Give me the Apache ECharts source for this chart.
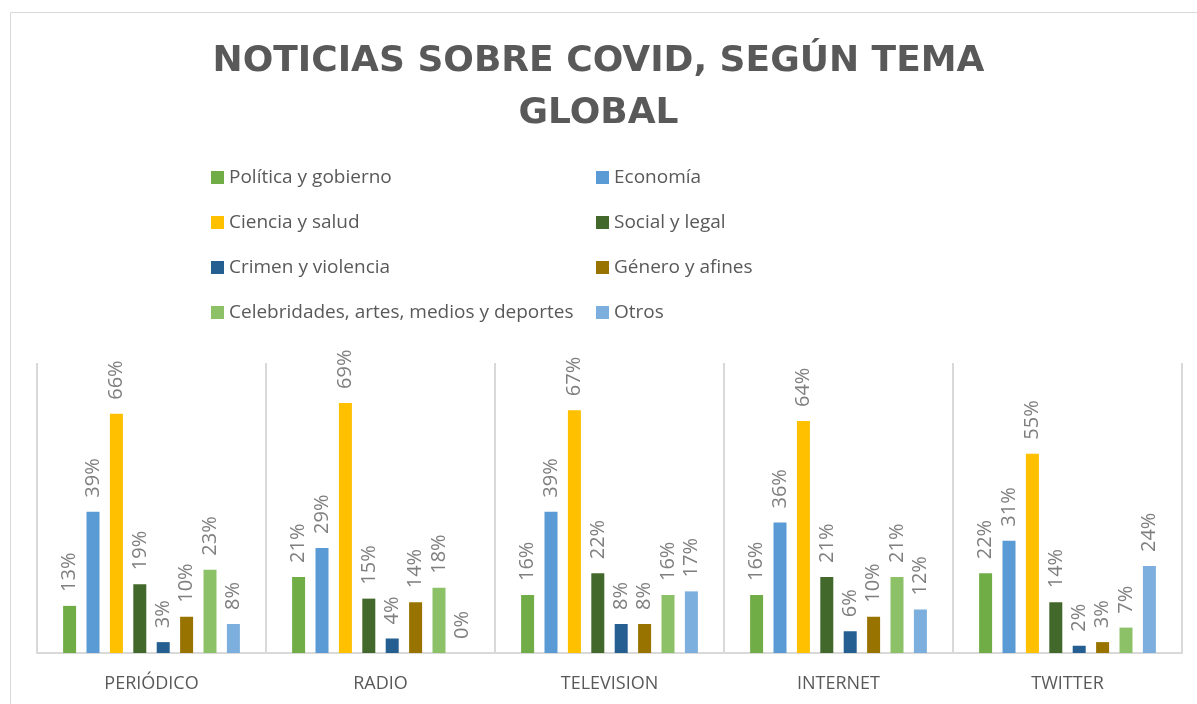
<!DOCTYPE html>
<html>
<head>
<meta charset="utf-8">
<script src="https://cdn.jsdelivr.net/npm/echarts@6/dist/echarts.min.js"></script>
<style>
  html, body { margin: 0; padding: 0; background: #fff; }
  #chart { width: 1197px; height: 704px; }
</style>
</head>
<body>
<div id="chart"></div>
<script>
// categorias (medios)
var medios = ['PERIÓDICO', 'RADIO', 'TELEVISION', 'INTERNET', 'TWITTER']

// porcentajes por tema
var politica = [13, 21, 16, 16, 22]
var economia = [39, 29, 39, 36, 31]
var ciencia = [66, 69, 67, 64, 55]
var social = [19, 15, 22, 21, 14]
var crimen = [3, 4, 8, 6, 2]
var genero = [10, 14, 8, 10, 3]
var celebridades = [23, 18, 16, 21, 7]
var otros = [8, 0, 17, 12, 24]

var temas = [
  { name: 'Política y gobierno', data: politica, color: '#70ad47' },
  { name: 'Economía', data: economia, color: '#5b9bd5' },
  { name: 'Ciencia y salud', data: ciencia, color: '#ffc000' },
  { name: 'Social y legal', data: social, color: '#43682b' },
  { name: 'Crimen y violencia', data: crimen, color: '#255e91' },
  { name: 'Género y afines', data: genero, color: '#997300' },
  { name: 'Celebridades, artes, medios y deportes', data: celebridades, color: '#8cc168' },
  { name: 'Otros', data: otros, color: '#7cafdd' }
]

var chart = echarts.init(document.getElementById('chart'))

var legendText = { fontFamily: 'Open Sans', fontSize: 19, color: '#595959' }

chart.setOption({
  animation: false,
  title: {
    text: 'NOTICIAS SOBRE COVID, SEGÚN TEMA\nGLOBAL',
    left: 'center',
    top: 31,
    textStyle: {
      fontFamily: 'DejaVu Sans',
      fontWeight: 'bold',
      fontSize: 36,
      lineHeight: 52,
      color: '#595959'
    }
  },
  graphic: [{
    type: 'rect',
    shape: { x: 10.5, y: 12.5, width: 1200, height: 720 },
    style: { fill: 'none', stroke: '#d9d9d9', lineWidth: 1 },
    silent: true
  }],
  legend: [
    {
      orient: 'vertical',
      left: 206,
      top: 163,
      itemWidth: 13,
      itemHeight: 13,
      itemGap: 26,
      icon: 'rect',
      textStyle: legendText,
      data: [temas[0].name, temas[2].name, temas[4].name, temas[6].name]
    },
    {
      orient: 'vertical',
      left: 591,
      top: 163,
      itemWidth: 13,
      itemHeight: 13,
      itemGap: 26,
      icon: 'rect',
      textStyle: legendText,
      data: [temas[1].name, temas[3].name, temas[5].name, temas[7].name]
    }
  ],
  grid: {
    left: 37,
    right: 15,
    top: 363,
    bottom: 51
  },
  xAxis: {
    type: 'category',
    data: medios,
    axisLine: { lineStyle: { color: '#d9d9d9', width: 2 } },
    axisTick: { show: false },
    splitLine: { show: true, lineStyle: { color: '#d9d9d9', width: 2 } },
    axisLabel: {
      margin: 22,
      fontFamily: 'Open Sans',
      fontSize: 18,
      color: '#595959'
    }
  },
  yAxis: {
    type: 'value',
    min: 0,
    max: 80,
    show: false,
    splitLine: { show: false }
  },
  series: temas.map(function (t) {
    return {
      name: t.name,
      type: 'bar',
      data: t.data,
      barWidth: 13,
      barGap: '80%',
      itemStyle: { color: t.color },
      label: {
        show: true,
        position: 'top',
        rotate: 90,
        align: 'left',
        verticalAlign: 'middle',
        distance: 14,
        formatter: '{c}%',
        fontFamily: 'Open Sans',
        fontSize: 20,
        color: '#7f7f7f'
      }
    }
  })
})
</script>
</body>
</html>
